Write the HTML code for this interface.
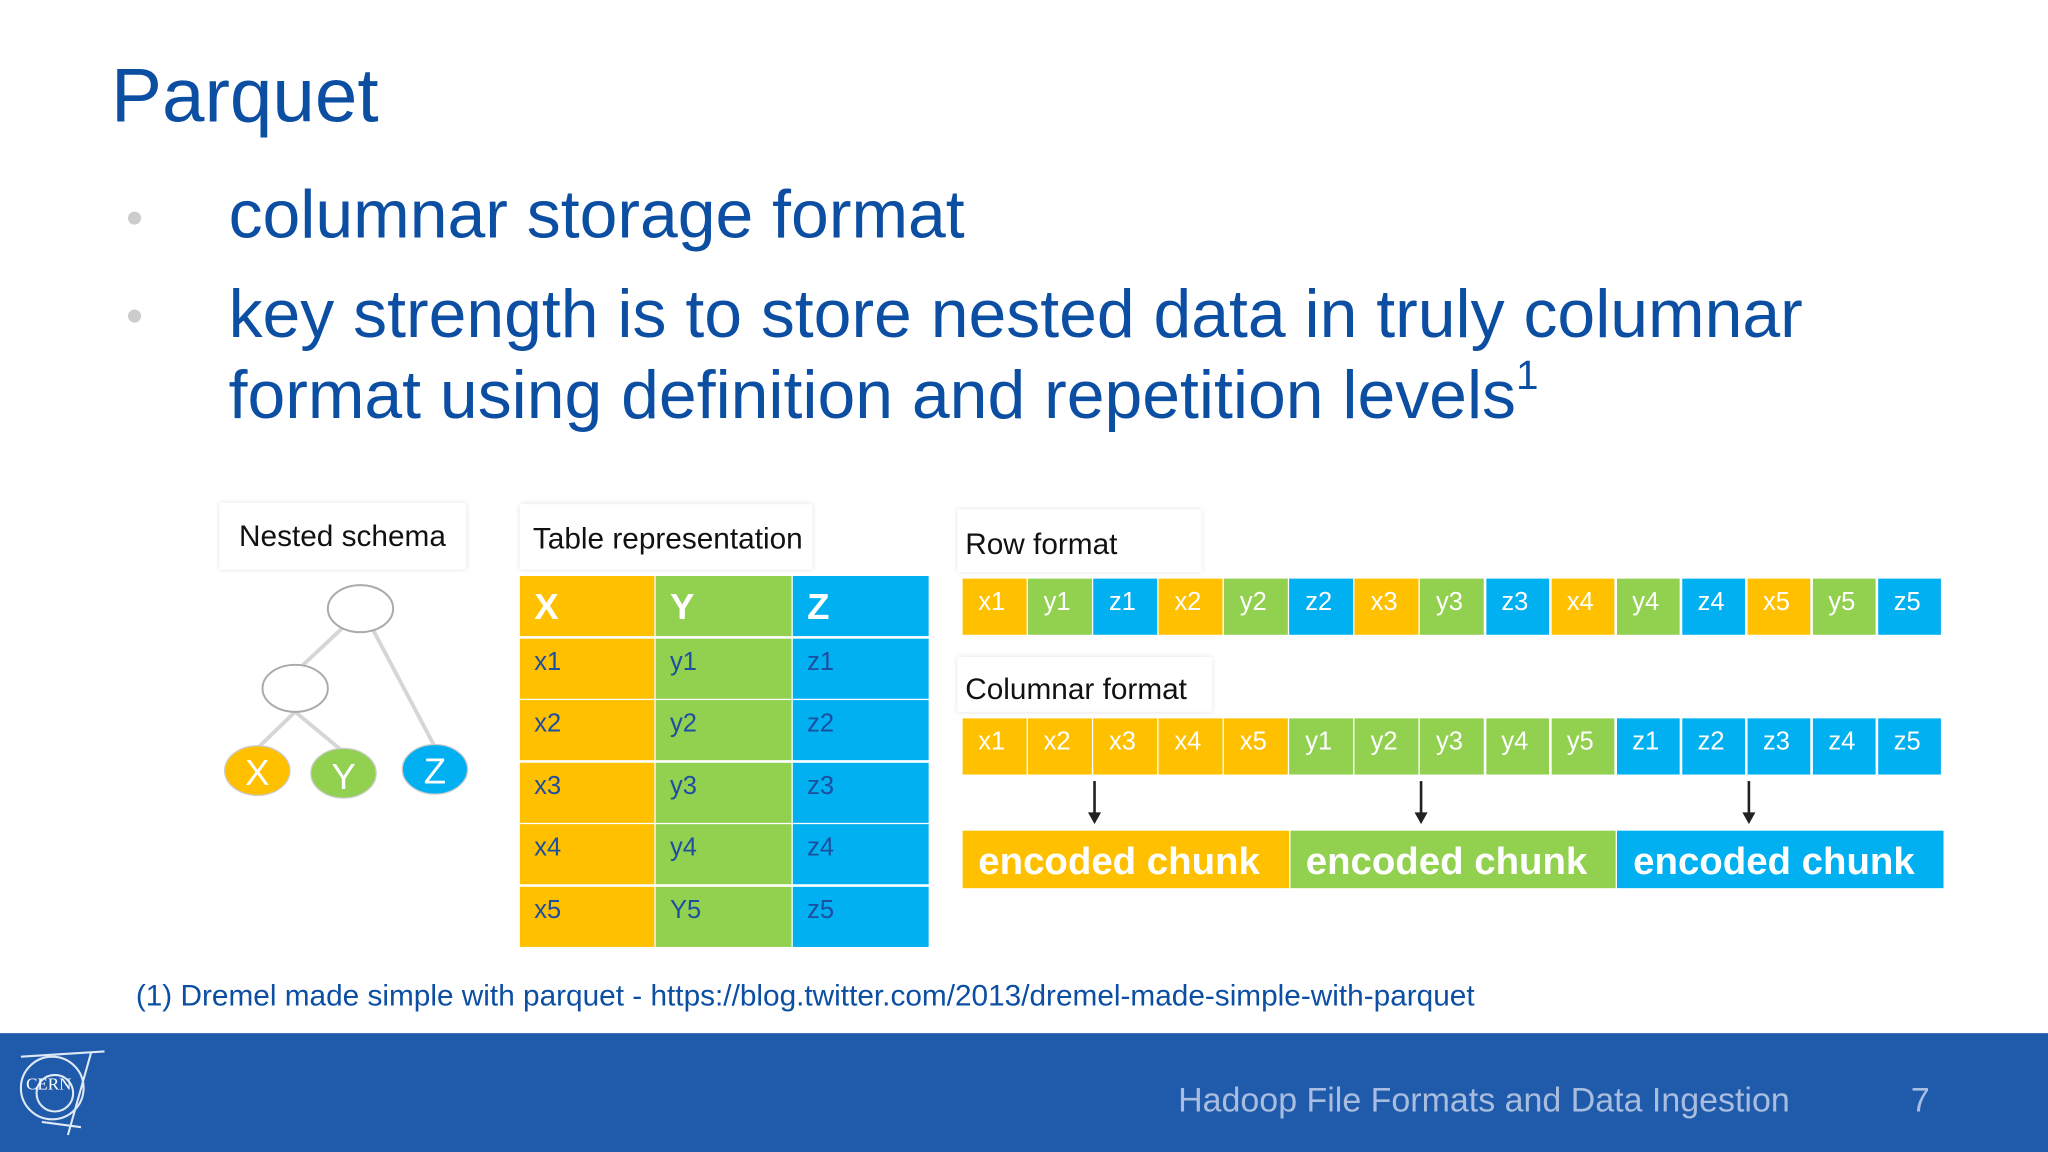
<!DOCTYPE html>
<html><head><meta charset="utf-8">
<style>
html,body{margin:0;padding:0;width:2048px;height:1152px;overflow:hidden;background:#fff}
#s{position:absolute;left:0;top:0;width:1568px;height:882px;transform:scale(1.306122);transform-origin:0 0;font-family:"Liberation Sans",sans-serif}
.a{position:absolute}
.lbl{position:absolute;background:#fff;box-shadow:0 0 4px rgba(0,0,0,0.12);font-size:22.8px;color:#111;box-sizing:border-box;padding-left:12px;white-space:nowrap}
.bl{color:#0b4ea2}
.cell{position:absolute;color:#fff;font-size:19.5px;box-sizing:border-box;padding-left:12px;white-space:nowrap}
.tc{position:absolute;box-sizing:border-box;padding-left:11px;font-size:19.5px;color:#1d4fa0}
</style></head><body>
<div id="s">
<div class="a bl" style="left:85px;top:40px;font-size:58.5px">Parquet</div>
<div class="a" style="left:98px;top:162px;width:10px;height:10px;border-radius:5px;background:#ccc"></div>
<div class="a" style="left:98px;top:237px;width:10px;height:10px;border-radius:5px;background:#ccc"></div>
<div class="a bl" style="left:175px;top:135px;font-size:52px;white-space:nowrap">columnar storage format</div>
<div class="a bl" style="left:175px;top:210px;font-size:52px;line-height:62px;white-space:nowrap">key strength is to store nested data in truly columnar<br>format using definition and repetition levels<sup style="font-size:31px;vertical-align:22px;line-height:0">1</sup></div>

<div class="lbl" style="left:168px;top:385px;width:189px;height:51px;line-height:51px;padding-left:15px">Nested schema</div>
<svg class="a" style="left:0;top:0" width="720" height="740">
<g stroke="#d6d6d6" stroke-width="3" fill="none">
<line x1="262" y1="481" x2="230" y2="511"/><line x1="286" y1="483" x2="332" y2="570"/>
<line x1="226" y1="545" x2="198" y2="572"/><line x1="226" y1="545" x2="261" y2="574"/>
</g>
<ellipse cx="276" cy="466" rx="25" ry="18" fill="#fff" stroke="#aaa" stroke-width="1.5"/>
<ellipse cx="226" cy="527" rx="25" ry="18" fill="#fff" stroke="#aaa" stroke-width="1.5"/>
<ellipse cx="197" cy="590" rx="25" ry="19" fill="#ffc000" stroke="#ccc"/>
<ellipse cx="263" cy="592" rx="25" ry="19" fill="#92d050" stroke="#ccc"/>
<ellipse cx="333" cy="589" rx="25" ry="19" fill="#00b0f0" stroke="#ccc"/>
<g fill="#fff" font-size="28" font-family="Liberation Sans" text-anchor="middle">
<text x="197" y="601">X</text><text x="263" y="604">Y</text><text x="333" y="600">Z</text></g>
</svg>

<div class="lbl" style="left:398px;top:386px;width:224px;height:50px;line-height:52px;padding-left:10px">Table representation</div>
<div id="tbl"></div>

<div class="lbl" style="left:733px;top:390px;width:187px;height:48px;line-height:52px;padding-left:6px">Row format</div>
<div id="rowf"></div>
<div class="lbl" style="left:733px;top:503px;width:195px;height:42px;line-height:48px;padding-left:6px">Columnar format</div>
<div id="colf"></div>
<div id="chunks"></div>

<div class="a bl" style="left:104px;top:749px;font-size:22.8px;white-space:nowrap">(1) Dremel made simple with parquet - https://blog.twitter.com/2013/dremel-made-simple-with-parquet</div>

<div class="a" style="left:0;top:791px;width:1568px;height:91px;background:#1f5aab"></div>
<svg class="a" style="left:12px;top:803px" width="72" height="70">
<g fill="none" stroke="#dfe8f5" stroke-width="1.6"><circle cx="28" cy="30" r="24"/><circle cx="30" cy="34" r="14"/><path d="M4 6 L68 2 M58 2 L40 66 M20 56 L50 60"/></g>
<text x="8" y="31" font-size="13" fill="#fff" font-family="Liberation Serif">CERN</text></svg>
<div class="a" style="left:902px;top:827px;font-size:26px;color:#a9bddf;white-space:nowrap">Hadoop File Formats and Data Ingestion</div>
<div class="a" style="left:1463px;top:827px;font-size:26px;color:#a9bddf">7</div>
</div>
<script>
const colors={x:'#ffc000',y:'#92d050',z:'#00b0f0'};
const tableHeaders=['X','Y','Z'];
const tableRows=[['x1','y1','z1'],['x2','y2','z2'],['x3','y3','z3'],['x4','y4','z4'],['x5','Y5','z5']];
const rowCells=['x1','y1','z1','x2','y2','z2','x3','y3','z3','x4','y4','z4','x5','y5','z5'];
const colCells=['x1','x2','x3','x4','x5','y1','y2','y3','y4','y5','z1','z2','z3','z4','z5'];
const chunkLabels=['encoded chunk','encoded chunk','encoded chunk'];
const chunkKeys=['x','y','z'];
function mk(parent,cls,st,txt){const d=document.createElement('div');d.className=cls;d.style.cssText=st;d.textContent=txt;parent.appendChild(d);return d;}
const tbl=document.getElementById('tbl');
const cx=[398,502,607],cw=[103,104,104];
tableHeaders.forEach((h,i)=>{const d=mk(tbl,'tc',`left:${cx[i]}px;top:441px;width:${cw[i]}px;height:46px;line-height:48px;background:${colors[chunkKeys[i]]};color:#fff;font-weight:bold;font-size:28px`,h);

});
tableRows.forEach((r,j)=>r.forEach((v,i)=>{const d=mk(tbl,'tc',`left:${cx[i]}px;top:${489+j*47.4}px;width:${cw[i]}px;height:46px;line-height:36px;background:${colors[chunkKeys[i]]}`,v);

}));
function strip(id,cells,top){const p=document.getElementById(id);const w=751/cells.length;
cells.forEach((v,i)=>{const d=mk(p,'cell',`left:${737+i*w}px;top:${top}px;width:${w-1.5}px;height:43px;line-height:36px;background:${colors[v[0].toLowerCase()]}`,v);

});}
strip('rowf',rowCells,443);strip('colf',colCells,550);
const ch=document.getElementById('chunks');
chunkLabels.forEach((t,i)=>{const d=mk(ch,'cell',`left:${737+i*250.7}px;top:636px;width:249.5px;height:44px;line-height:48px;background:${colors[chunkKeys[i]]};font-size:29.4px;font-weight:bold`,t);


const a=document.createElement('div');a.className='a';a.style.cssText=`left:${838+i*250.3-1}px;top:598px;width:2px;height:26px;background:#222`;ch.appendChild(a);


const h=document.createElement('div');h.className='a';h.style.cssText=`left:${838+i*250.3-5}px;top:622px;width:0;height:0;border-left:5px solid transparent;border-right:5px solid transparent;border-top:9px solid #222`;ch.appendChild(h);

});
</script>
</body></html>
